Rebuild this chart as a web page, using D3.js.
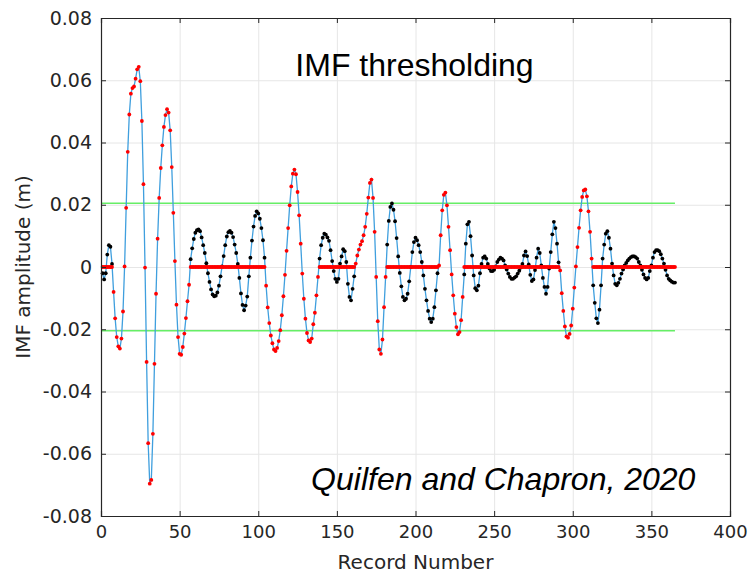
<!DOCTYPE html>
<html>
<head>
<meta charset="utf-8">
<script src="https://cdn.jsdelivr.net/npm/d3@7"></script>
<style>
    body { margin: 0; background: #fff; }
    #chart-area { width: 750px; height: 574px; }
    .axis text { font-family: "DejaVu Sans", sans-serif; font-size: 18px; fill: #262626; }
    .axis path, .axis line { stroke: #262626; }
    .grid line { stroke: #e6e6e6; }
    .grid path { display: none; }
</style>
</head>
<body>
<div id="chart-area"></div>
<script>

// record numbers 1..365, one IMF value per record
let records = d3.range(1, 366);

let imfValues = [
    -0.002, -0.004, -0.002, 0.004, 0.007, 0.0065, 0.001, -0.008, -0.0165, -0.0225,
    -0.0255, -0.0262, -0.023, -0.0143, 0.0002, 0.019, 0.037, 0.049, 0.0557, 0.0575,
    0.058, 0.0605, 0.0635, 0.0643, 0.0597, 0.0469, 0.0266, -0.0002, -0.0305, -0.0566,
    -0.0696, -0.0684, -0.0536, -0.0311, -0.0086, 0.0091, 0.0222, 0.0318, 0.0391, 0.045,
    0.0488, 0.0507, 0.0496, 0.0439, 0.0321, 0.0174, 0.0019, -0.0121, -0.0225, -0.0279,
    -0.0282, -0.0257, -0.0214, -0.0164, -0.011, -0.0057, 0.0025, 0.006, 0.009, 0.011,
    0.0118, 0.0121, 0.0115, 0.0095, 0.007, 0.0045, 0.0012, -0.002, -0.0048, -0.0072,
    -0.0088, -0.0094, -0.0092, -0.0082, -0.006, -0.003, 0.0002, 0.0035, 0.007, 0.0098,
    0.0112, 0.0116, 0.011, 0.0096, 0.0072, 0.0045, 0.001, -0.0035, -0.0085, -0.0122,
    -0.0139, -0.0124, -0.0095, -0.003, 0.003, 0.0085, 0.013, 0.0164, 0.0179, 0.0172,
    0.0155, 0.0125, 0.0086, 0.003, -0.006, -0.013, -0.018, -0.022, -0.0245, -0.0265,
    -0.027, -0.026, -0.0238, -0.0203, -0.0155, -0.0094, -0.0025, 0.0052, 0.0125, 0.0198,
    0.0259, 0.03, 0.0313, 0.0298, 0.0241, 0.0166, 0.0075, -0.0021, -0.0102, -0.0166,
    -0.0212, -0.0236, -0.0241, -0.023, -0.0184, -0.0147, -0.0091, -0.0032, 0.0027, 0.007,
    0.0094, 0.0107, 0.0104, 0.0095, 0.0084, 0.0054, 0.0019, -0.0013, -0.0038, -0.0048,
    -0.0038, 0.0011, 0.0034, 0.0057, 0.0051, 0.0016, -0.0054, -0.0096, -0.0107, -0.007,
    -0.003, 0.0011, 0.0037, 0.0056, 0.0072, 0.0083, 0.0102, 0.0129, 0.0171, 0.0223,
    0.027, 0.0281, 0.0222, 0.0113, -0.0032, -0.0174, -0.0265, -0.0279, -0.0233, -0.0129,
    -0.0032, 0.0072, 0.0148, 0.0193, 0.0204, 0.0184, 0.0147, 0.0093, 0.0034, -0.0019,
    -0.0062, -0.0096, -0.0107, -0.0102, -0.0086, -0.0046, 0.0, 0.0048, 0.008, 0.0094,
    0.0086, 0.007, 0.0048, 0.0016, -0.0027, -0.007, -0.0107, -0.0141, -0.0166, -0.0177,
    -0.0166, -0.0129, -0.0075, -0.002, 0.0005, 0.0102, 0.0182, 0.0232, 0.0239, 0.0198,
    0.0129, 0.0054, -0.0024, -0.0091, -0.015, -0.0193, -0.0216, -0.0209, -0.0171, -0.0096,
    -0.0024, 0.0075, 0.0137, 0.0145, 0.0099, 0.0037, -0.0027, -0.0068, -0.0075, -0.006,
    -0.002, 0.001, 0.003, 0.0034, 0.0027, 0.001, -0.0005, -0.0013, -0.0013, -0.0009,
    0.0002, 0.0016, 0.0024, 0.003, 0.0027, 0.0021, 0.0005, -0.0008, -0.0021, -0.0032,
    -0.0038, -0.0038, -0.0034, -0.003, -0.0021, -0.0012, -0.0002, 0.001, 0.0037, 0.005,
    0.0035, 0.0008, -0.0025, -0.0045, -0.004, -0.001, 0.003, 0.0059, 0.0045, 0.0005,
    -0.0035, -0.0064, -0.0086, -0.0064, -0.0005, 0.0048, 0.0105, 0.0145, 0.0125, 0.0075,
    0.0015, -0.0011, -0.0084, -0.0141, -0.0191, -0.0223, -0.0227, -0.0215, -0.0188, -0.0134,
    -0.0066, 0.0002, 0.0064, 0.0126, 0.0182, 0.0225, 0.0246, 0.0249, 0.0227, 0.0179,
    0.0113, 0.0027, -0.0059, -0.0115, -0.0165, -0.018, -0.0137, -0.0059, 0.0027, 0.0072,
    0.0107, 0.0115, 0.0094, 0.0059, 0.0011, -0.0027, -0.0054, -0.0059, -0.0051, -0.0038,
    -0.0021, -0.0008, 0.0005, 0.0013, 0.0021, 0.0027, 0.0032, 0.0034, 0.0034, 0.0032,
    0.0027, 0.0016, 0.0005, -0.0009, -0.0024, -0.0035, -0.004, -0.0035, -0.0013, 0.0005,
    0.003, 0.0048, 0.0054, 0.0054, 0.0051, 0.0041, 0.0027, 0.0011, -0.0009, -0.0027,
    -0.0038, -0.0043, -0.0047, -0.005, -0.005
];

// record ranges whose half-waves stay under the threshold (set to zero)
let zeroedRanges = [[1, 7], [57, 104], [139, 161], [182, 214], [231, 291], [313, 365]];

let threshold = 0.0205;
let thresholdSpan = [0, 365];

let xTicks = [0, 50, 100, 150, 200, 250, 300, 350, 400];
let yTicks = [-0.08, -0.06, -0.04, -0.02, 0, 0.02, 0.04, 0.06, 0.08];

let titleText = "IMF thresholding";
let creditText = "Quilfen and Chapron, 2020";
let xLabel = "Record Number";
let yLabel = "IMF amplitude (m)";


class ImfChart {

    constructor(parentElement) {
        this.parentElement = parentElement;
        this.displayData = [];
    }

    initVis() {
        let vis = this;

        vis.margin = {top: 18, right: 20, bottom: 58, left: 101};
        vis.width = 750 - vis.margin.left - vis.margin.right;
        vis.height = 574 - vis.margin.top - vis.margin.bottom;

        vis.svg = d3.select("#" + vis.parentElement).append("svg")
            .attr("width", 750)
            .attr("height", 574)
            .append("g")
            .attr("transform", "translate(" + vis.margin.left + "," + vis.margin.top + ")");

        vis.x = d3.scaleLinear().domain([0, 400]).range([0, vis.width]);
        vis.y = d3.scaleLinear().domain([-0.08, 0.08]).range([vis.height, 0]);

        // grid
        vis.svg.append("g")
            .attr("class", "grid")
            .attr("transform", "translate(0," + vis.height + ")")
            .call(d3.axisBottom(vis.x).tickValues(xTicks).tickSize(-vis.height).tickFormat(""));
        vis.svg.append("g")
            .attr("class", "grid")
            .call(d3.axisLeft(vis.y).tickValues(yTicks).tickSize(-vis.width).tickFormat(""));

        vis.wrangleData();
    }

    wrangleData() {
        let vis = this;

        vis.displayData = records.map((r, i) => {
            let zeroed = zeroedRanges.some(z => r >= z[0] && r <= z[1]);
            return {record: r, value: imfValues[i], zeroed: zeroed, kept: zeroed ? 0 : imfValues[i]};
        });

        vis.updateVis();
    }

    updateVis() {
        let vis = this;

        // threshold lines
        [threshold, -threshold].forEach(t => {
            vis.svg.append("line")
                .attr("x1", vis.x(thresholdSpan[0]))
                .attr("x2", vis.x(thresholdSpan[1]))
                .attr("y1", vis.y(t))
                .attr("y2", vis.y(t))
                .attr("stroke", "#66ee66")
                .attr("stroke-width", 1.4);
        });

        // original IMF
        let line = d3.line()
            .x(d => vis.x(d.record))
            .y(d => vis.y(d.value));

        vis.svg.append("path")
            .datum(vis.displayData)
            .attr("fill", "none")
            .attr("stroke", "#3f9fde")
            .attr("stroke-width", 1.3)
            .attr("d", line);

        // values removed by the threshold
        vis.svg.selectAll(".removed")
            .data(vis.displayData.filter(d => d.zeroed))
            .enter().append("circle")
            .attr("class", "removed")
            .attr("cx", d => vis.x(d.record))
            .attr("cy", d => vis.y(d.value))
            .attr("r", 1.9)
            .attr("fill", "#000");

        // thresholded IMF
        vis.svg.selectAll(".kept")
            .data(vis.displayData)
            .enter().append("circle")
            .attr("class", "kept")
            .attr("cx", d => vis.x(d.record))
            .attr("cy", d => vis.y(d.kept))
            .attr("r", 1.9)
            .attr("fill", "#ff0000");

        // box with inward ticks
        vis.svg.append("g")
            .attr("class", "axis")
            .attr("transform", "translate(0," + vis.height + ")")
            .call(d3.axisBottom(vis.x).tickValues(xTicks).tickSize(-5).tickPadding(9).tickFormat(d3.format("d")));
        vis.svg.append("g")
            .attr("class", "axis")
            .call(d3.axisTop(vis.x).tickValues(xTicks).tickSize(-5).tickFormat(""));
        vis.svg.append("g")
            .attr("class", "axis y-axis")
            .call(d3.axisLeft(vis.y).tickValues(yTicks).tickSize(-5).tickPadding(9)
                .tickFormat(d => d === 0 ? "0" : d.toFixed(2)));
        vis.svg.append("g")
            .attr("class", "axis")
            .attr("transform", "translate(" + vis.width + ",0)")
            .call(d3.axisRight(vis.y).tickValues(yTicks).tickSize(-5).tickFormat(""));

        vis.svg.selectAll(".axis .domain").attr("stroke-width", 1.2);
        vis.svg.selectAll(".y-axis text").style("font-size", "19px");

        // labels
        vis.svg.append("text")
            .attr("x", vis.width / 2)
            .attr("y", vis.height + 53)
            .attr("text-anchor", "middle")
            .style("font-family", "DejaVu Sans, sans-serif")
            .style("font-size", "20px")
            .style("fill", "#262626")
            .text(xLabel);

        vis.svg.append("text")
            .attr("transform", "translate(-71," + (vis.height / 2) + ") rotate(-90)")
            .attr("text-anchor", "middle")
            .style("font-family", "DejaVu Sans, sans-serif")
            .style("font-size", "20px")
            .style("fill", "#262626")
            .text(yLabel);

        vis.svg.append("text")
            .attr("x", vis.x(200) - 1)
            .attr("y", 58)
            .attr("text-anchor", "middle")
            .style("font-family", "Liberation Sans, Arial, sans-serif")
            .style("font-size", "32px")
            .style("fill", "#000")
            .text(titleText);

        vis.svg.append("text")
            .attr("x", vis.x(378))
            .attr("y", vis.height - 26)
            .attr("text-anchor", "end")
            .style("font-family", "Liberation Sans, Arial, sans-serif")
            .style("font-size", "32px")
            .style("font-style", "italic")
            .style("fill", "#000")
            .text(creditText);
    }
}

let chart = new ImfChart("chart-area");
chart.initVis();

</script>
</body>
</html>
